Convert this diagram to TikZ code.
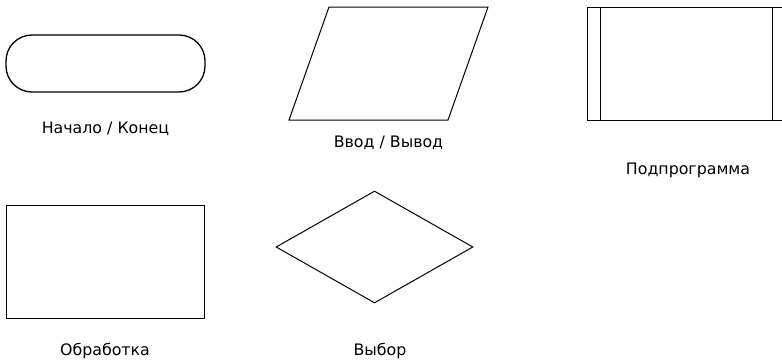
\documentclass[tikz,border=0pt]{standalone}
\usepackage{fontspec}
\setmainfont{DejaVu Sans}
\usetikzlibrary{positioning, shapes.geometric}

\begin{document}
\begin{tikzpicture}[
    x=1pt, y=-1pt,
    block/.style={draw, line width=1pt, inner sep=0pt,
                  minimum width=199pt, minimum height=113pt},
    lbl/.style={font=\fontsize{15.8}{18}\selectfont, inner sep=0pt, anchor=base}
  ]
  \useasboundingbox (0,0) rectangle (782,364);
  \clip (0,0) rectangle (782,364);

  % top row
  \node[draw, line width=1.3pt, rounded corners=26pt, inner sep=0pt,
        minimum width=199pt, minimum height=57pt] (term) at (105.5,63.5) {};
  \node[lbl, below=40.7pt of term.south, anchor=base] (termlbl) {Начало / Конец};

  \coordinate (io) at (388.5,120);
  \draw[line width=1pt] (289,120) -- (329,7) -- (488,7) -- (448,120) -- cycle;
  \node[lbl, below=27.7pt of io, anchor=base] (iolbl) {Ввод / Вывод};

  \node[block] (sub) at (686.5,63.5) {};
  \draw[line width=1pt] ([xshift=14pt]sub.north west) -- ([xshift=14pt]sub.south west);
  \draw[line width=1pt] ([xshift=-14pt]sub.north east) -- ([xshift=-14pt]sub.south east);
  \node[lbl, below=54pt of sub.south, anchor=base, xshift=1.5pt] (sublbl) {Подпрограмма};

  % bottom row
  \node[block, minimum width=198pt] (proc) at (105,261.5) {};
  \node[lbl, below=37pt of proc.south, anchor=base] (proclbl) {Обработка};

  \node[draw, diamond, line width=1pt, inner sep=0pt,
        minimum width=197pt, minimum height=112pt] (dec) at (374.5,247) {};
  \node[lbl, below=52pt of dec.south, anchor=base, xshift=5.5pt] (declbl) {Выбор};
\end{tikzpicture}
\end{document}
